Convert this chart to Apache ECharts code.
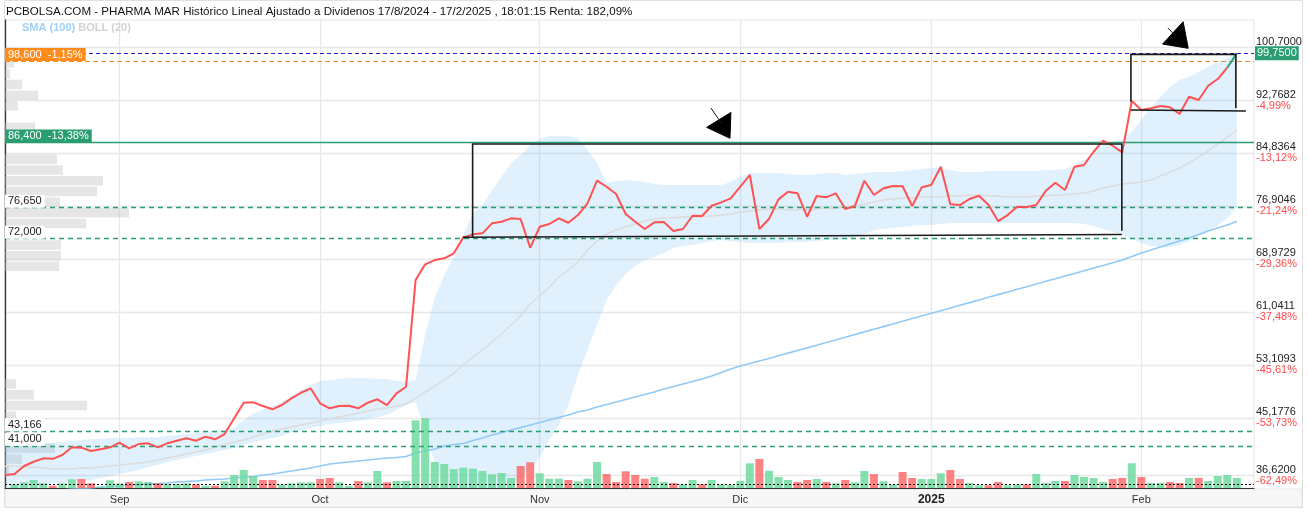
<!DOCTYPE html>
<html>
<head>
<meta charset="utf-8">
<script src="https://cdn.jsdelivr.net/npm/echarts@6.0.0/dist/echarts.min.js"></script>
<style>
html,body{margin:0;padding:0;background:#fff;}
#chart{width:1308px;height:512px;}
</style>
</head>
<body>
<div id="chart"></div>
<script>
// ---------- DATA ----------
const dates = [
 '2024-08-15','2024-08-16','2024-08-19','2024-08-20','2024-08-21','2024-08-22','2024-08-23','2024-08-26','2024-08-27','2024-08-28','2024-08-29','2024-08-30',
 '2024-09-02','2024-09-03','2024-09-04','2024-09-05','2024-09-06','2024-09-09','2024-09-10','2024-09-11','2024-09-12','2024-09-13','2024-09-16','2024-09-17','2024-09-18','2024-09-19','2024-09-20','2024-09-23','2024-09-24','2024-09-25','2024-09-26','2024-09-27','2024-09-30',
 '2024-10-01','2024-10-02','2024-10-03','2024-10-04','2024-10-07','2024-10-08','2024-10-09','2024-10-10','2024-10-11','2024-10-14','2024-10-15','2024-10-16','2024-10-17','2024-10-18','2024-10-21','2024-10-22','2024-10-23','2024-10-24','2024-10-25','2024-10-28','2024-10-29','2024-10-30','2024-10-31',
 '2024-11-01','2024-11-04','2024-11-05','2024-11-06','2024-11-07','2024-11-08','2024-11-11','2024-11-12','2024-11-13','2024-11-14','2024-11-15','2024-11-18','2024-11-19','2024-11-20','2024-11-21','2024-11-22','2024-11-25','2024-11-26','2024-11-27','2024-11-28','2024-11-29',
 '2024-12-02','2024-12-03','2024-12-04','2024-12-05','2024-12-06','2024-12-09','2024-12-10','2024-12-11','2024-12-12','2024-12-13','2024-12-16','2024-12-17','2024-12-18','2024-12-19','2024-12-20','2024-12-23','2024-12-24','2024-12-27','2024-12-30','2024-12-31',
 '2025-01-02','2025-01-03','2025-01-06','2025-01-07','2025-01-08','2025-01-09','2025-01-10','2025-01-13','2025-01-14','2025-01-15','2025-01-16','2025-01-17','2025-01-20','2025-01-21','2025-01-22','2025-01-23','2025-01-24','2025-01-27','2025-01-28','2025-01-29','2025-01-30','2025-01-31',
 '2025-02-03','2025-02-04','2025-02-05','2025-02-06','2025-02-07','2025-02-10','2025-02-11','2025-02-12','2025-02-13','2025-02-14','2025-02-17'
];

const close = [
 36.62,36.77,37.97,38.61,39.12,39.05,39.62,40.77,40.72,40.21,
 40.47,40.77,41.46,40.62,41.26,41.37,40.77,41.37,41.76,42.12,
 41.76,42.36,41.97,42.76,45.11,47.45,47.50,46.95,46.46,47.10,
 48.10,48.94,49.60,47.36,46.61,46.95,47.00,46.61,47.45,47.96,
 47.10,48.85,49.84,65.81,68.16,68.80,69.06,69.81,72.20,72.65,
 72.80,74.30,74.54,75.05,74.94,70.65,73.79,74.20,75.05,74.39,
 75.54,77.29,80.68,79.78,78.69,75.69,74.54,73.45,74.45,74.50,
 73.15,73.45,75.44,75.40,76.94,77.44,78.04,79.78,81.53,73.45,
 74.94,77.89,79.03,78.79,75.29,78.39,78.19,78.79,76.44,76.89,
 80.68,78.54,79.54,79.89,79.85,76.89,79.69,80.04,82.78,77.14,
 77.04,77.94,78.43,77.04,74.64,75.54,76.79,76.75,77.04,79.18,
 80.38,79.29,82.78,83.03,85.02,86.67,85.92,84.93,92.61,91.26,
 91.52,91.86,91.67,90.66,93.25,92.76,94.90,95.90,97.60,99.75
];

// volume, thousands of shares
const volume = [
 0,37,57,80,47,23,47,87,90,47,
 10,77,47,60,67,60,47,40,40,47,
 37,23,23,67,130,180,120,80,80,37,
 47,57,57,90,100,57,23,70,57,170,
 57,70,70,677,697,260,240,190,203,193,
 170,137,150,100,220,257,147,93,93,80,
 67,93,260,140,60,167,130,93,110,60,
 50,37,80,40,80,37,30,70,247,290,
 173,110,80,60,80,90,60,47,80,57,
 170,140,67,37,160,100,90,90,147,180,
 90,50,27,27,60,27,37,37,140,50,
 70,70,130,110,100,60,90,100,247,110,
 50,50,60,50,100,100,70,120,130,100
];

const bollUpper = [
 41.11,41.26,41.26,41.41,41.41,41.41,41.56,41.71,41.86,42.01,
 42.01,42.16,42.16,42.16,42.31,42.31,42.31,42.46,42.61,42.76,
 42.91,43.06,43.21,43.36,43.66,44.86,45.75,46.35,46.95,47.55,
 48.45,49.35,50.10,50.69,50.84,50.99,51.14,51.14,51.14,50.99,
 50.99,50.69,50.54,50.90,57.58,63.12,66.56,69.26,72.55,75.84,
 77.04,79.29,81.23,83.33,84.53,86.02,86.92,87.37,87.37,87.37,
 87.07,85.28,83.33,80.33,80.63,80.78,80.63,80.48,80.18,80.03,
 80.03,80.03,80.03,80.03,80.03,80.03,80.48,81.23,81.83,81.83,
 81.83,81.83,81.68,81.53,81.53,81.68,81.83,81.83,81.53,81.68,
 81.83,81.98,81.98,81.98,82.13,82.28,82.43,82.58,82.58,82.28,
 81.98,81.98,81.98,82.13,82.13,82.13,82.13,82.13,82.13,82.28,
 82.28,82.43,82.88,83.78,84.83,86.02,86.47,86.77,87.97,89.76,
 91.56,93.21,94.71,95.75,96.20,96.95,97.70,98.45,99.05,99.80
];

const bollLower = [
 34.68,34.68,34.83,34.98,35.13,35.28,35.43,35.58,35.73,35.87,
 36.17,36.47,36.77,37.07,37.37,37.82,38.12,38.57,38.87,39.17,
 39.47,39.77,40.07,40.37,40.67,41.11,41.56,41.86,42.16,42.46,
 43.06,43.36,43.66,43.96,44.26,44.41,44.56,44.71,45.01,45.31,
 45.61,46.35,47.10,47.55,43.36,38.57,34.38,32.13,30.63,29.89,
 29.89,30.63,32.13,34.68,36.17,37.37,39.32,41.86,44.11,47.10,
 51.59,55.34,59.08,62.82,65.07,66.71,67.91,68.81,69.26,69.86,
 70.61,70.90,71.05,71.35,71.65,71.80,71.65,71.50,71.35,71.35,
 71.35,71.35,71.50,71.50,71.50,71.65,71.80,71.80,71.95,72.25,
 72.70,73.30,73.45,73.60,73.75,73.90,74.05,74.05,74.20,74.35,
 74.35,74.35,74.35,74.35,74.35,74.35,74.35,74.35,74.35,74.35,
 74.35,74.35,74.35,74.20,73.90,73.45,73.00,72.55,71.95,71.35,
 70.90,70.76,70.76,71.05,71.65,72.40,73.15,74.05,75.09,76.74
];

const bollMid = [
 37.97,37.97,37.82,37.82,37.67,37.52,37.52,37.52,37.67,37.67,
 37.82,37.97,38.12,38.27,38.42,38.57,38.87,39.17,39.47,39.77,
 40.07,40.37,40.82,41.11,41.56,41.86,42.31,42.76,43.21,43.51,
 43.81,44.11,44.41,44.71,45.01,45.31,45.61,45.90,46.20,46.50,
 46.65,46.95,47.25,48.15,49.05,49.95,50.84,51.89,53.09,54.29,
 55.34,56.54,57.73,59.08,60.43,62.22,63.42,64.77,66.26,67.31,
 68.51,70.31,71.65,72.70,73.30,73.75,74.20,74.65,74.94,75.09,
 75.09,75.24,75.24,75.24,75.39,75.54,75.69,75.99,76.14,76.29,
 76.44,76.44,76.29,76.29,76.29,76.44,76.59,76.59,76.74,76.89,
 77.19,77.49,77.79,77.94,78.09,78.09,78.24,78.24,78.24,78.39,
 78.39,78.54,78.54,78.39,78.39,78.24,78.24,78.24,78.39,78.39,
 78.54,78.54,78.69,78.84,79.14,79.59,79.89,80.18,80.33,80.48,
 80.78,81.38,81.98,82.58,83.33,84.23,85.13,86.17,87.22,88.27
];

const sma100 = [
 33.48,33.63,33.78,33.93,34.08,34.23,34.38,34.53,34.60,34.68,
 34.83,34.90,34.98,35.13,35.20,35.28,35.35,35.43,35.58,35.65,
 35.73,35.87,35.95,36.02,36.17,36.32,36.40,36.62,36.77,37.00,
 37.22,37.45,37.67,37.97,38.27,38.42,38.57,38.72,38.87,39.02,
 39.17,39.24,39.39,39.92,40.22,40.52,40.97,41.19,41.34,41.79,
 42.16,42.61,42.99,43.36,43.74,44.11,44.49,44.86,45.24,45.61,
 46.05,46.35,46.80,47.17,47.55,47.92,48.30,48.67,49.05,49.50,
 49.87,50.25,50.62,50.99,51.44,51.97,52.49,52.94,53.31,53.69,
 54.06,54.47,54.87,55.26,55.66,56.05,56.46,56.85,57.25,57.66,
 58.05,58.45,58.84,59.24,59.65,60.04,60.44,60.83,61.23,61.64,
 62.03,62.43,62.82,63.22,63.63,64.02,64.42,64.81,65.21,65.62,
 66.01,66.41,66.80,67.21,67.61,68.00,68.40,68.81,69.33,69.86,
 70.31,70.76,71.20,71.65,72.10,72.63,73.15,73.60,74.05,74.57
];

// volume-by-price histogram, 40 bins from 36.62 to 100.70 (bottom bin first)
const volByPrice = [
 4,17,50,25,20,11,82,29,11,0,
 0,0,0,0,0,0,0,0,0,54,
 56,56,21,81,124,55,92,98,58,52,
 0,24,30,0,13,33,17,5,9,10
];

const priceTicks = [36.62,45.1776,53.1093,61.0411,68.9729,76.9046,84.8364,92.7682,100.7];
const priceTickPct = ['-62,49%','-53,73%','-45,61%','-37,48%','-29,36%','-21,24%','-13,12%','-4,99%',''];

const monthLabels = ['Sep','Oct','Nov','Dic','2025','Feb'];
const monthStarts = ['2024-09-02','2024-10-01','2024-11-01','2024-12-02','2025-01-02','2025-02-03'];

const lastPrice = 99.75;
const prevLevel = 98.6;
const prevLevelText = '98,600  -1,15%';
const resistLevel = 86.4;
const resistText = '86,400  -13,38%';
const supportLevels = [76.65, 72.0, 43.166, 41.0];
const supportTexts = ['76,650', '72,000', '43,166', '41,000'];
const volAvgLine = 40;

// hand-drawn annotations, in [day index, price]
const boxLines = [
 [[47.96,72.21],[116.96,72.63]],
 [[48.97,72.25],[48.97,86.17],[116.96,86.17],[116.96,73.19]],
 [[117.91,92.51],[117.91,99.60],[128.90,99.60],[128.90,91.52]],
 [[117.91,91.26],[129.95,91.11]]
];
const arrowHeads = [
 [[73.48,88.67],[76.02,90.90],[75.92,87.03]],
 [[121.23,101.14],[123.38,104.48],[123.91,100.50]]
];
const arrowStems = [
 [[73.93,91.56],[75.08,89.17]],
 [[121.78,103.54],[122.62,102.34]]
];

// ---------- CHART ----------
const fmt4 = v => v.toFixed(4).replace('.', ',');
const monthIdx = monthStarts.map(d => dates.indexOf(d));
const N = dates.length;
const FONT = '"Liberation Sans", Arial, sans-serif';

const chart = echarts.init(document.getElementById('chart'), null, {renderer: 'canvas'});

const volItems = volume.map((v, i) => ({
  value: [i, v],
  itemStyle: {color: (i > 0 && close[i] < close[i-1]) ? 'rgba(255,95,95,0.78)' : 'rgba(105,218,158,0.82)'}
}));

function polyRender(shapes, mode) {
  return function (params, api) {
    const pts = shapes[params.dataIndex].map(p => api.coord(p));
    if (mode === 'fill') {
      return {type: 'polygon', shape: {points: pts}, style: {fill: '#000', stroke: '#000', lineWidth: 1}};
    }
    return {type: 'polyline', shape: {points: pts}, style: {fill: null, stroke: '#1a1a1a', lineWidth: mode === 'thin' ? 1 : 1.6}};
  };
}

function bandRender(params, api) {
  if (params.dataIndex !== 0) return null;
  const up = bollUpper.map((v, i) => api.coord([i, v]));
  const lo = bollLower.map((v, i) => api.coord([i, v])).reverse();
  return {type: 'polygon', shape: {points: up.concat(lo)}, style: {fill: 'rgba(100,180,240,0.2)', stroke: null}};
}

const mlLabelBase = {fontSize: 11, fontFamily: FONT, position: 'insideStartTop', distance: 0, padding: [1, 3, 1, 3]};

const option = {
  animation: false,
  backgroundColor: '#fff',
  textStyle: {fontFamily: FONT},
  title: [
    {text: 'PCBOLSA.COM - PHARMA MAR Histórico Lineal Ajustado a Dividenos 17/8/2024 - 17/2/2025 , 18:01:15 Renta: 182,09%',
     left: 6, top: 6, padding: 0,
     textStyle: {fontSize: 11.6, fontWeight: 'normal', color: '#111', fontFamily: FONT}},
    {text: '{a|SMA (100)} {b|BOLL (20)}', left: 22, top: 22, padding: 0,
     textStyle: {fontSize: 11, fontFamily: FONT, rich: {
       a: {color: '#9fd0f7', fontWeight: 'bold', fontSize: 11, fontFamily: FONT},
       b: {color: '#d2d2d2', fontWeight: 'bold', fontSize: 11, fontFamily: FONT}}}}
  ],
  grid: [
    {left: 5, right: 54, top: 20, bottom: 24, show: true, borderColor: '#e4e4e4', borderWidth: 1, backgroundColor: 'transparent'},
    {left: 5, width: 200, top: 47, height: 428}
  ],
  xAxis: [
    {type: 'value', gridIndex: 0, min: 0, max: 130.8,
     axisLine: {show: true, onZero: false, lineStyle: {color: '#333', width: 1}},
     axisTick: {show: false, customValues: monthIdx},
     splitLine: {show: true, lineStyle: {color: '#e8e8e8', width: 1.3}},
     axisLabel: {customValues: monthIdx, margin: 6, fontSize: 11, color: '#333', fontFamily: FONT,
       formatter: v => {
         const k = monthIdx.indexOf(Math.round(v));
         if (k < 0) return '';
         const t = monthLabels[k];
         return /^\d{4}$/.test(t) ? '{y|' + t + '}' : t;
       },
       rich: {y: {fontWeight: 'bold', fontSize: 12, color: '#222', fontFamily: FONT}}}},
    {type: 'value', gridIndex: 1, min: 0, max: 200, show: false}
  ],
  yAxis: [
    {type: 'value', gridIndex: 0, position: 'right', min: 34.68, max: 104.74, scale: true,
     axisLine: {show: true, lineStyle: {color: '#333', width: 1.3}},
     axisTick: {show: false, customValues: priceTicks},
     splitLine: {show: true, lineStyle: {color: '#e8e8e8', width: 1.3}},
     axisLabel: {customValues: priceTicks, margin: 2, align: 'left', fontFamily: FONT,
       formatter: v => {
         const k = priceTicks.findIndex(t => Math.abs(t - v) < 1e-6);
         const pct = k >= 0 ? priceTickPct[k] : '';
         return '{v|' + fmt4(v) + '}\n{p|' + (pct || ' ') + '}';
       },
       rich: {v: {fontSize: 11, color: '#222', lineHeight: 11, fontFamily: FONT},
              p: {fontSize: 11, color: '#ff4a4a', lineHeight: 11, fontFamily: FONT}}}},
    {type: 'value', gridIndex: 0, min: 0, max: 4680, show: false},
    {type: 'category', gridIndex: 1, data: volByPrice.map((_, j) => j), show: false}
  ],
  series: [
    {type: 'bar', xAxisIndex: 1, yAxisIndex: 2, data: volByPrice, barCategoryGap: '11%',
     itemStyle: {color: 'rgba(195,195,195,0.42)'}, silent: true, z: 1},
    {type: 'custom', name: 'BOLL band', data: [[0, bollUpper[0]]], renderItem: bandRender, clip: true, silent: true, z: 2},
    {type: 'line', name: 'bollMid', data: bollMid.map((v, i) => [i, v]), symbol: 'none',
     lineStyle: {color: '#dcdcdc', width: 1.5}, silent: true, z: 3},
    {type: 'line', name: 'SMA100', data: sma100.map((v, i) => [i, v]), symbol: 'none',
     lineStyle: {color: '#90caf9', width: 1.6}, silent: true, z: 3},
    {type: 'bar', name: 'volume', yAxisIndex: 1, data: volItems, barWidth: 8, silent: true, z: 4,
     markLine: {symbol: ['none', 'none'], silent: true, animation: false,
       data: [{yAxis: volAvgLine, lineStyle: {color: '#000', type: [2, 2], width: 1}, label: {show: false}}]}},
    {type: 'line', name: 'close', data: close.slice(0, N - 1).map((v, i) => [i, v]), symbol: 'none',
     lineStyle: {color: '#ff5252', width: 2}, silent: true, z: 6,
     markLine: {symbol: ['none', 'none'], silent: true, animation: false, precision: 4,
       data: [
         {yAxis: lastPrice, lineStyle: {color: '#1f1fd6', type: [4, 3], width: 1.2, opacity: 1},
          label: {show: true, position: 'end', distance: 1, formatter: fmt4(lastPrice), color: '#fff',
                  backgroundColor: '#2a9d73', padding: [2, 2, 1, 2], fontSize: 11, fontFamily: FONT}},
         {yAxis: prevLevel, lineStyle: {color: '#ff8c1a', type: [5, 3], width: 1.2, opacity: 1},
          label: Object.assign({}, mlLabelBase, {formatter: prevLevelText, color: '#fff', backgroundColor: '#ff8c1a'})},
         {yAxis: resistLevel, lineStyle: {color: '#2a9d73', type: 'solid', width: 1.3, opacity: 1},
          label: Object.assign({}, mlLabelBase, {formatter: resistText, color: '#fff', backgroundColor: '#2a9d73'})}
       ].concat(supportLevels.map((lv, k) => ({
          yAxis: lv, lineStyle: {color: '#2a9d73', type: [5, 4], width: 1.3, opacity: 1},
          label: Object.assign({}, mlLabelBase, {formatter: supportTexts[k], color: '#222', backgroundColor: '#fff'})})))}},
    {type: 'line', name: 'lastDay', data: [[N - 2, close[N - 2]], [N - 1, close[N - 1]]], symbol: 'none',
     lineStyle: {color: '#2e9e72', width: 2}, silent: true, z: 6},
    {type: 'custom', name: 'boxes', data: boxLines.map(s => s[0]), renderItem: polyRender(boxLines, 'line'), silent: true, z: 8},
    {type: 'custom', name: 'arrowHeads', data: arrowHeads.map(s => s[0]), renderItem: polyRender(arrowHeads, 'fill'), silent: true, z: 8},
    {type: 'custom', name: 'arrowStems', data: arrowStems.map(s => s[0]), renderItem: polyRender(arrowStems, 'thin'), silent: true, z: 8}
  ],
  graphic: [
    {type: 'rect', z: -10, silent: true, shape: {x: 5, y: 489, width: 1297, height: 18}, style: {fill: '#f7f7f7', stroke: '#e6e6e6'}},
    {type: 'rect', z: -9, silent: true, shape: {x: 4.5, y: 0.5, width: 1298, height: 507}, style: {fill: 'none', stroke: '#e4dede'}}
  ]
};
chart.setOption(option);
</script>
</body>
</html>
